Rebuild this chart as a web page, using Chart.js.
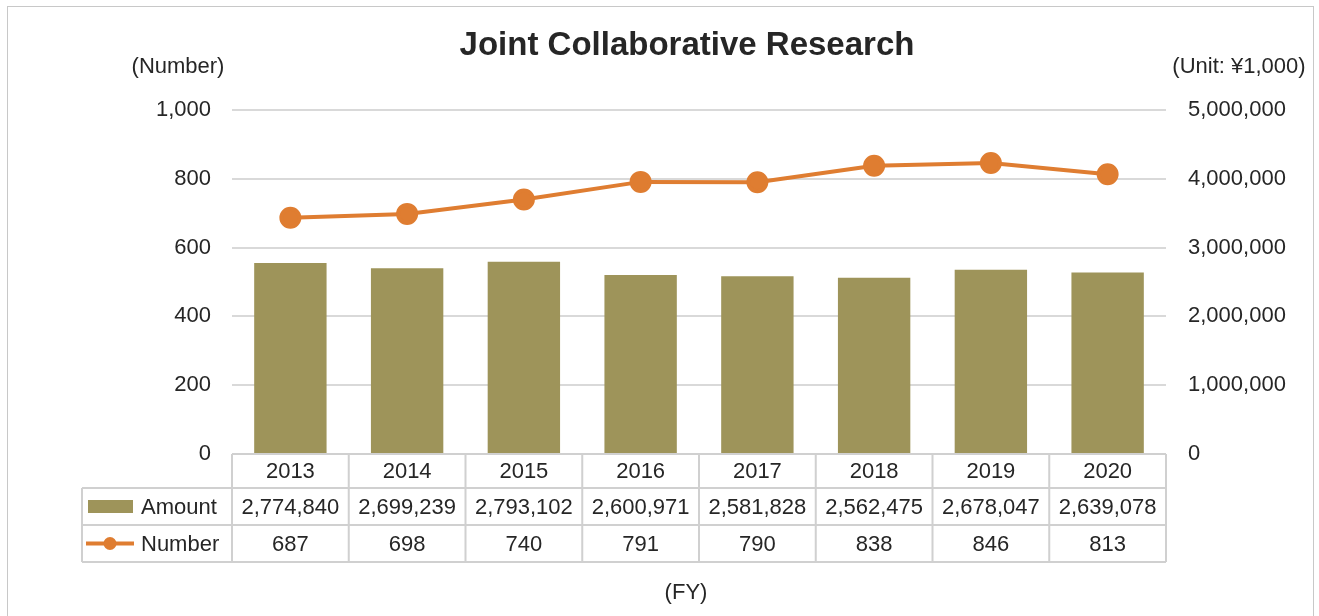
<!DOCTYPE html>
<html>
<head>
<meta charset="utf-8">
<script src="https://cdn.jsdelivr.net/npm/chart.js@4"></script>
<style>
  html, body { margin: 0; padding: 0; background: #fff; }
  #wrap { width: 1319px; height: 616px; position: relative; }
</style>
</head>
<body>
<div id="wrap"><canvas id="chart"></canvas></div>
<script>
const years = ["2013", "2014", "2015", "2016", "2017", "2018", "2019", "2020"]
const amounts = [2774840, 2699239, 2793102, 2600971, 2581828, 2562475, 2678047, 2639078]
const numbers = [687, 698, 740, 791, 790, 838, 846, 813]

const FONT = "'Liberation Sans', Arial, sans-serif"
const TEXT = "#262626"
const BAR = "#9e945a"
const LINE = "#df7d31"
const RULE = "#d0d0d0"

const fmt = v => Number(v).toLocaleString("en-US")

const tablePlugin = {
  id: "table",
  afterDraw(c) {
    const ctx = c.ctx
    const x = c.scales.x
    const area = c.chartArea
    const left = area.left, right = area.right
    const colW = (right - left) / years.length
    const r0 = area.bottom, r1 = r0 + 34, r2 = r1 + 37, r3 = r2 + 37
    const legL = 82

    ctx.save()
    // outer frame
    ctx.strokeStyle = "#c8c8c8"
    ctx.lineWidth = 1
    ctx.strokeRect(7.5, 6.5, 1306, 640)

    // table rules
    ctx.strokeStyle = RULE
    ctx.lineWidth = 2
    ctx.beginPath()
    ctx.moveTo(left, r0); ctx.lineTo(right, r0)
    ctx.moveTo(legL, r1); ctx.lineTo(right, r1)
    ctx.moveTo(legL, r2); ctx.lineTo(right, r2)
    ctx.moveTo(legL, r3); ctx.lineTo(right, r3)
    ctx.moveTo(legL, r1); ctx.lineTo(legL, r3)
    for (let i = 0; i <= years.length; i++) {
      const xx = left + i * colW
      ctx.moveTo(xx, r0); ctx.lineTo(xx, r3)
    }
    ctx.stroke()

    ctx.fillStyle = TEXT
    ctx.font = `22px ${FONT}`
    ctx.textAlign = "center"
    ctx.textBaseline = "middle"
    years.forEach((y, i) => {
      const cx = x.getPixelForValue(i)
      ctx.fillText(y, cx, (r0 + r1) / 2 + 1)
      ctx.fillText(fmt(amounts[i]), cx, (r1 + r2) / 2 + 1)
      ctx.fillText(fmt(numbers[i]), cx, (r2 + r3) / 2 + 1)
    })

    // legend keys
    ctx.fillStyle = BAR
    ctx.fillRect(88, 500, 45, 13)
    ctx.strokeStyle = LINE
    ctx.lineWidth = 4
    ctx.beginPath()
    ctx.moveTo(86, (r2 + r3) / 2); ctx.lineTo(134, (r2 + r3) / 2)
    ctx.stroke()
    ctx.fillStyle = LINE
    ctx.beginPath()
    ctx.arc(110, (r2 + r3) / 2, 6.5, 0, Math.PI * 2)
    ctx.fill()

    ctx.fillStyle = TEXT
    ctx.textAlign = "left"
    ctx.fillText("Amount", 141, (r1 + r2) / 2 + 1)
    ctx.fillText("Number", 141, (r2 + r3) / 2 + 1)

    // titles
    ctx.textAlign = "center"
    ctx.fillText("(Number)", 178, 67)
    ctx.fillText("(Unit: ¥1,000)", 1239, 67)
    ctx.fillText("(FY)", 686, 593)
    ctx.font = `bold 33px ${FONT}`
    ctx.fillText("Joint Collaborative Research", 687, 46)
    ctx.restore()
  }
}

new Chart(document.getElementById("chart"), {
  type: "bar",
  data: {
    labels: years,
    datasets: [
      {
        type: "line",
        label: "Number",
        data: numbers,
        yAxisID: "yLeft",
        borderColor: LINE,
        backgroundColor: LINE,
        borderWidth: 4,
        pointRadius: 9,
        pointHoverRadius: 9,
        tension: 0,
        order: 0
      },
      {
        type: "bar",
        label: "Amount",
        data: amounts,
        yAxisID: "yRight",
        backgroundColor: BAR,
        categoryPercentage: 1,
        barPercentage: 0.62,
        order: 1
      }
    ]
  },
  options: {
    responsive: true,
    maintainAspectRatio: false,
    animation: false,
    layout: { padding: { top: 110, bottom: 162, left: 0, right: 0 } },
    plugins: {
      legend: { display: false },
      title: { display: false },
      tooltip: { enabled: false }
    },
    scales: {
      x: { display: false, offset: true },
      yLeft: {
        position: "left",
        min: 0, max: 1000,
        ticks: { stepSize: 200, padding: 21, color: TEXT, font: { family: FONT, size: 22 }, callback: v => fmt(v) },
        grid: { color: "#d9d9d9", lineWidth: 2, drawTicks: false },
        border: { display: false },
        afterFit: s => { s.width = 232 }
      },
      yRight: {
        position: "right",
        min: 0, max: 5000000,
        ticks: { stepSize: 1000000, padding: 22, color: TEXT, font: { family: FONT, size: 22 }, callback: v => fmt(v) },
        grid: { drawOnChartArea: false, drawTicks: false },
        border: { display: false },
        afterFit: s => { s.width = 153 }
      }
    }
  },
  plugins: [tablePlugin]
})
</script>
</body>
</html>
